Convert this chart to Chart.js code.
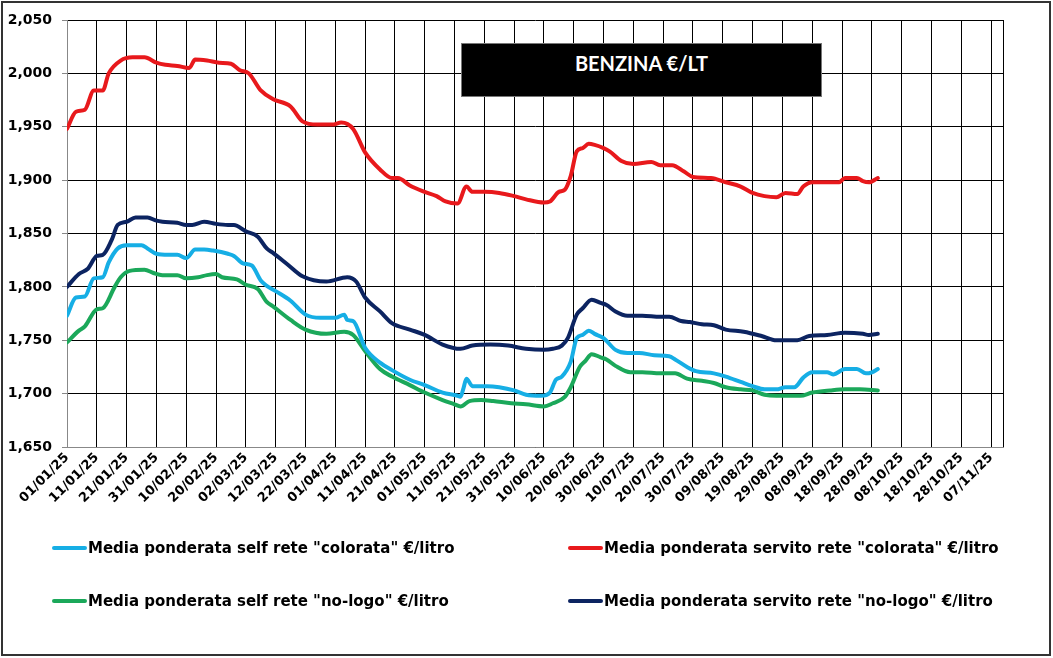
<!DOCTYPE html>
<html><head><meta charset="utf-8">
<script src="https://cdn.jsdelivr.net/npm/chart.js@4/dist/chart.umd.min.js"></script>
<style>
html,body{margin:0;padding:0;background:#fff;}
#wrap{position:relative;width:1053px;height:658px;overflow:hidden;background:#fff;}
#frame{position:absolute;left:1px;top:1px;width:1046px;height:651px;border:2px solid #333;}
#c{position:absolute;left:0;top:0;}
#title{position:absolute;left:461px;top:43px;width:361px;height:54px;background:#000;border:1px solid #777;box-sizing:border-box;color:#fff;font:bold 20px Lato,sans-serif;text-align:center;padding-top:7px;}
.leg{position:absolute;display:flex;align-items:center;height:18px;font:bold 15px "DejaVu Sans",sans-serif;color:#000;white-space:nowrap;}
.leg i{display:inline-block;width:35px;height:4px;margin-right:1px;border-radius:2px;}
</style></head>
<body>
<div id="wrap">
<canvas id="c" width="1053" height="658"></canvas>
<div id="frame"></div>
<div id="title">BENZINA €/LT</div>
<div class="leg" style="left:52px;top:539px"><i style="background:#16aee5"></i>Media ponderata self rete "colorata" €/litro</div>
<div class="leg" style="left:568px;top:539px"><i style="background:#e8191c"></i>Media ponderata servito rete "colorata" €/litro</div>
<div class="leg" style="left:52px;top:592px"><i style="background:#1ba85a"></i>Media ponderata self rete "no-logo" €/litro</div>
<div class="leg" style="left:568px;top:592px"><i style="background:#0c2461"></i>Media ponderata servito rete "no-logo" €/litro</div>
</div>
<script>
// x = days since 01/01/25
const xTickLabels = ['01/01/25','11/01/25','21/01/25','31/01/25','10/02/25','20/02/25','02/03/25','12/03/25','22/03/25','01/04/25','11/04/25','21/04/25','01/05/25','11/05/25','21/05/25','31/05/25','10/06/25','20/06/25','30/06/25','10/07/25','20/07/25','30/07/25','09/08/25','19/08/25','29/08/25','08/09/25','18/09/25','28/09/25','08/10/25','18/10/25','28/10/25','07/11/25'];
const yTickLabels = ['1,650','1,700','1,750','1,800','1,850','1,900','1,950','2,000','2,050'];

const seriesNames = ['Media ponderata self rete "colorata" €/litro','Media ponderata servito rete "colorata" €/litro','Media ponderata self rete "no-logo" €/litro','Media ponderata servito rete "no-logo" €/litro'];

const selfColDays = [0,3,6,9,12,14,17,20,25,27,30,34,37,40,43,46,49,54,56,59,62,65,67,70,75,80,85,90,93,94,96,100,105,109,115,120,126,131,132,133,134,136,141,145,150,154,159,162,164,166,169,171,173,175,177,180,184,188,192,197,202,204,208,211,217,221,226,230,234,238,241,244,247,250,255,257,261,265,268,270,272];
const selfColValues = [1.773,1.790,1.791,1.808,1.809,1.823,1.836,1.839,1.839,1.836,1.831,1.830,1.830,1.827,1.835,1.835,1.834,1.831,1.829,1.822,1.820,1.806,1.801,1.796,1.787,1.774,1.771,1.771,1.774,1.769,1.768,1.743,1.729,1.722,1.713,1.708,1.701,1.698,1.697,1.705,1.714,1.707,1.707,1.706,1.703,1.699,1.698,1.701,1.713,1.716,1.730,1.752,1.755,1.759,1.756,1.752,1.741,1.738,1.738,1.736,1.735,1.732,1.725,1.721,1.719,1.716,1.711,1.707,1.704,1.704,1.706,1.706,1.715,1.720,1.720,1.718,1.723,1.723,1.719,1.720,1.723];

const servColDays = [0,3,6,9,12,14,18,22,26,30,33,37,41,43,47,51,55,58,61,65,69,75,79,84,89,92,96,100,105,109,111,115,120,124,127,131,134,136,140,145,150,154,160,162,165,167,169,171,173,175,177,180,182,186,190,196,199,203,207,210,216,221,226,230,234,238,241,245,247,250,255,259,261,265,267,269,272];
const servColValues = [1.948,1.964,1.966,1.984,1.984,2.000,2.012,2.015,2.015,2.010,2.008,2.007,2.005,2.013,2.012,2.010,2.009,2.003,2.000,1.984,1.976,1.969,1.955,1.952,1.952,1.954,1.948,1.926,1.910,1.902,1.902,1.895,1.889,1.885,1.880,1.878,1.894,1.889,1.889,1.888,1.885,1.882,1.879,1.880,1.889,1.891,1.904,1.927,1.930,1.934,1.933,1.930,1.927,1.918,1.915,1.917,1.914,1.914,1.908,1.903,1.902,1.898,1.894,1.888,1.885,1.884,1.888,1.887,1.894,1.898,1.898,1.898,1.902,1.902,1.899,1.898,1.902];

const selfNoLogoDays = [0,4,6,10,12,16,18,21,26,29,32,37,40,44,47,50,52,57,60,64,67,69,75,80,87,93,96,100,105,109,115,120,126,130,132,135,139,143,149,154,160,163,167,169,172,174,176,179,181,184,189,193,199,204,208,213,217,221,226,230,234,238,244,246,250,256,261,266,272];
const selfNoLogoValues = [1.748,1.759,1.763,1.779,1.780,1.800,1.809,1.815,1.816,1.813,1.811,1.811,1.808,1.809,1.811,1.812,1.809,1.807,1.802,1.798,1.786,1.782,1.769,1.760,1.756,1.758,1.755,1.740,1.723,1.716,1.708,1.701,1.694,1.690,1.688,1.693,1.694,1.693,1.691,1.690,1.688,1.691,1.697,1.706,1.725,1.731,1.737,1.734,1.732,1.726,1.720,1.720,1.719,1.719,1.714,1.712,1.710,1.706,1.704,1.703,1.699,1.698,1.698,1.698,1.701,1.703,1.704,1.704,1.703];

const servNoLogoDays = [0,4,7,10,12,15,17,20,23,27,30,32,37,40,42,46,50,54,56,60,64,67,69,74,79,87,94,97,100,105,109,115,120,126,132,136,142,148,154,160,163,166,168,171,173,176,179,181,184,188,193,199,202,206,209,213,217,221,227,233,238,245,249,255,261,267,269,272];
const servNoLogoValues = [1.800,1.812,1.817,1.829,1.830,1.844,1.858,1.861,1.865,1.865,1.862,1.861,1.860,1.858,1.858,1.861,1.859,1.858,1.858,1.852,1.847,1.836,1.832,1.821,1.810,1.805,1.809,1.805,1.790,1.777,1.766,1.760,1.755,1.746,1.742,1.745,1.746,1.745,1.742,1.741,1.742,1.745,1.752,1.774,1.780,1.788,1.785,1.783,1.777,1.773,1.773,1.772,1.772,1.768,1.767,1.765,1.764,1.760,1.758,1.754,1.750,1.750,1.754,1.755,1.757,1.756,1.755,1.756];

const pts = (d, v) => d.map((x, i) => ({x: x, y: v[i]}));

const frameLines = {
  id: 'frameLines',
  beforeDatasetsDraw(chart) {
    const a = chart.chartArea, ctx = chart.ctx;
    ctx.save();
    ctx.strokeStyle = '#000';
    ctx.lineWidth = 1;
    ctx.beginPath();
    ctx.moveTo(Math.round(a.right) + 0.5, a.top);
    ctx.lineTo(Math.round(a.right) + 0.5, a.bottom);
    ctx.stroke();
    ctx.restore();
  }
};

const ds = (label, data, color) => ({
  label, data, borderColor: color, backgroundColor: color,
  borderWidth: 4, pointRadius: 0, fill: false,
  cubicInterpolationMode: 'monotone', borderCapStyle: 'round', borderJoinStyle: 'round'
});

new Chart(document.getElementById('c'), {
  type: 'line',
  data: {
    datasets: [
      ds(seriesNames[0], pts(selfColDays, selfColValues), '#16aee5'),
      ds(seriesNames[1], pts(servColDays, servColValues), '#e8191c'),
      ds(seriesNames[2], pts(selfNoLogoDays, selfNoLogoValues), '#1ba85a'),
      ds(seriesNames[3], pts(servNoLogoDays, servNoLogoValues), '#0c2461')
    ]
  },
  plugins: [frameLines],
  options: {
    responsive: false,
    animation: false,
    devicePixelRatio: 1,
    layout: { padding: { left: 0, top: 20, right: 50, bottom: 151 } },
    plugins: { legend: { display: false }, tooltip: { enabled: false } },
    scales: {
      x: {
        type: 'linear', min: 0, max: 314,
        afterFit(s) { s.height = 60; },
        ticks: {
          stepSize: 10, includeBounds: false, autoSkip: false,
          maxRotation: 45, minRotation: 45, padding: 3,
          color: '#000', font: { family: 'DejaVu Sans', size: 13, weight: 'bold' },
          callback: (v) => xTickLabels[Math.round(v / 10)] ?? ''
        },
        grid: { color: '#000', lineWidth: 1, drawTicks: false },
        border: { color: '#888', width: 1 }
      },
      y: {
        min: 1.65, max: 2.05,
        afterFit(s) { s.width = 67; },
        ticks: {
          stepSize: 0.05, padding: 10, color: '#000',
          font: { family: 'DejaVu Sans', size: 14, weight: 'bold' },
          callback: (v) => yTickLabels[Math.round((v - 1.65) / 0.05)] ?? ''
        },
        grid: { color: '#000', lineWidth: 1, tickLength: 5, tickColor: '#888' },
        border: { color: '#888', width: 1 }
      }
    }
  }
});
</script>
</body></html>
